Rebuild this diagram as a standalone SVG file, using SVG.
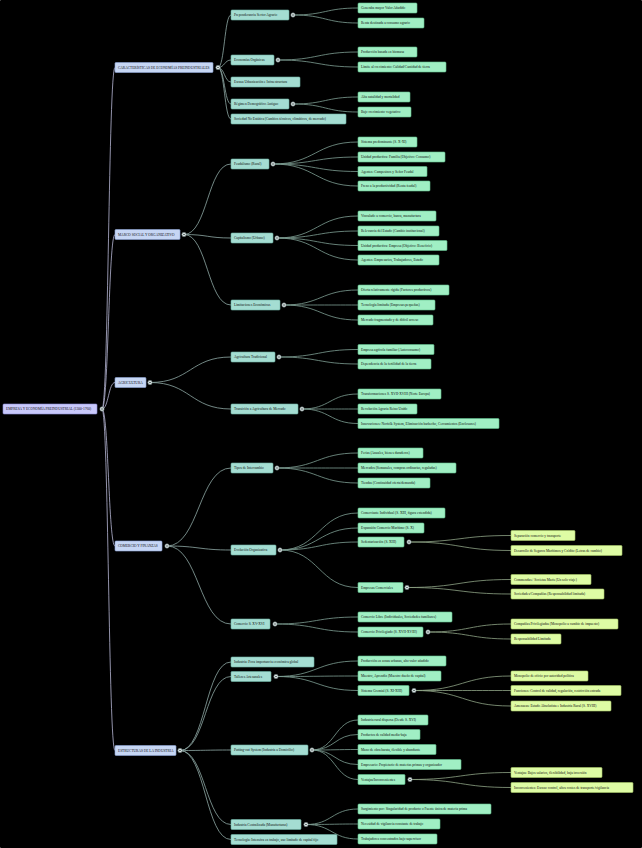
<svg xmlns="http://www.w3.org/2000/svg" width="642" height="848" viewBox="0 0 642 848">
<style>
rect{rx:1;stroke-width:0.6}
.n0{fill:#c9c9fb;stroke:#8e8ed8}
.n1{fill:#c6d6f4;stroke:#8ea6d6}
.n2{fill:#a4ddd2;stroke:#6fb3a6}
.n3{fill:#a0efc4;stroke:#62c08e}
.n4{fill:#defca4;stroke:#a8c86a}
text{font-family:"Liberation Serif","Times New Roman",serif;font-size:3.5px;fill:#111;dominant-baseline:central}
.c{fill:#e6eeee;stroke:#5b6b6b;stroke-width:0.6}
.d{fill:#3a4a4a}
#links path{fill:none;stroke-width:0.8}
.l0{stroke:#b7b7d6}
.l1{stroke:#8fa9a6}
.l2{stroke:#7f9f94}
.l3{stroke:#8fa486}
</style>
<rect width="642" height="848" fill="#000"/>
<g id="links">
<path class="l0" d="M102,409 C108.5,409 108.5,67.5 115,67.5"/>
<path class="l0" d="M102,409 C108.5,409 108.5,234.5 115,234.5"/>
<path class="l0" d="M102,409 C108.5,409 108.5,382.5 115,382.5"/>
<path class="l0" d="M102,409 C108.5,409 108.5,546 115,546"/>
<path class="l0" d="M102,409 C108.5,409 108.5,750.5 115,750.5"/>
<path class="l1" d="M218,67.5 C224.5,67.5 224.5,15 231,15"/>
<path class="l1" d="M218,67.5 C224.5,67.5 224.5,60 231,60"/>
<path class="l1" d="M218,67.5 C224.5,67.5 224.5,82 231,82"/>
<path class="l1" d="M218,67.5 C224.5,67.5 224.5,104 231,104"/>
<path class="l1" d="M218,67.5 C224.5,67.5 224.5,119 231,119"/>
<path class="l1" d="M184,234.5 C207.5,234.5 207.5,164 231,164"/>
<path class="l1" d="M184,234.5 C207.5,234.5 207.5,238 231,238"/>
<path class="l1" d="M184,234.5 C207.5,234.5 207.5,305 231,305"/>
<path class="l1" d="M150,382.5 C190.5,382.5 190.5,357 231,357"/>
<path class="l1" d="M150,382.5 C190.5,382.5 190.5,409 231,409"/>
<path class="l1" d="M167,546 C199,546 199,468 231,468"/>
<path class="l1" d="M167,546 C199,546 199,550 231,550"/>
<path class="l1" d="M167,546 C199,546 199,624 231,624"/>
<path class="l1" d="M180,750.5 C205.5,750.5 205.5,662 231,662"/>
<path class="l1" d="M180,750.5 C205.5,750.5 205.5,676.5 231,676.5"/>
<path class="l1" d="M180,750.5 C205.5,750.5 205.5,750 231,750"/>
<path class="l1" d="M180,750.5 C205.5,750.5 205.5,824.5 231,824.5"/>
<path class="l1" d="M180,750.5 C205.5,750.5 205.5,839.5 231,839.5"/>
<path class="l2" d="M293,15 C325.5,15 325.5,8 358,8"/>
<path class="l2" d="M293,15 C325.5,15 325.5,23 358,23"/>
<path class="l2" d="M278,60 C318,60 318,52 358,52"/>
<path class="l2" d="M278,60 C318,60 318,67 358,67"/>
<path class="l2" d="M293,104 C325.5,104 325.5,97 358,97"/>
<path class="l2" d="M293,104 C325.5,104 325.5,112 358,112"/>
<path class="l2" d="M273,164 C315.5,164 315.5,142 358,142"/>
<path class="l2" d="M273,164 C315.5,164 315.5,157 358,157"/>
<path class="l2" d="M273,164 C315.5,164 315.5,171.5 358,171.5"/>
<path class="l2" d="M273,164 C315.5,164 315.5,186 358,186"/>
<path class="l2" d="M277,238 C317.5,238 317.5,216 358,216"/>
<path class="l2" d="M277,238 C317.5,238 317.5,231 358,231"/>
<path class="l2" d="M277,238 C317.5,238 317.5,245.5 358,245.5"/>
<path class="l2" d="M277,238 C317.5,238 317.5,260 358,260"/>
<path class="l2" d="M284,305 C321,305 321,290 358,290"/>
<path class="l2" d="M284,305 C321,305 321,305 358,305"/>
<path class="l2" d="M284,305 C321,305 321,320 358,320"/>
<path class="l2" d="M279,357 C318.5,357 318.5,349.5 358,349.5"/>
<path class="l2" d="M279,357 C318.5,357 318.5,364 358,364"/>
<path class="l2" d="M302,409 C330,409 330,394 358,394"/>
<path class="l2" d="M302,409 C330,409 330,409 358,409"/>
<path class="l2" d="M302,409 C330,409 330,423.5 358,423.5"/>
<path class="l2" d="M277,468 C317.5,468 317.5,453 358,453"/>
<path class="l2" d="M277,468 C317.5,468 317.5,468 358,468"/>
<path class="l2" d="M277,468 C317.5,468 317.5,483 358,483"/>
<path class="l2" d="M280,550 C319,550 319,513 358,513"/>
<path class="l2" d="M280,550 C319,550 319,528 358,528"/>
<path class="l2" d="M280,550 C319,550 319,542 358,542"/>
<path class="l2" d="M280,550 C319,550 319,587.5 358,587.5"/>
<path class="l2" d="M275,624 C316.5,624 316.5,617 358,617"/>
<path class="l2" d="M275,624 C316.5,624 316.5,632 358,632"/>
<path class="l2" d="M276,676.5 C317,676.5 317,661 358,661"/>
<path class="l2" d="M276,676.5 C317,676.5 317,676 358,676"/>
<path class="l2" d="M276,676.5 C317,676.5 317,690.5 358,690.5"/>
<path class="l2" d="M312,750 C335,750 335,720 358,720"/>
<path class="l2" d="M312,750 C335,750 335,734.5 358,734.5"/>
<path class="l2" d="M312,750 C335,750 335,749.5 358,749.5"/>
<path class="l2" d="M312,750 C335,750 335,764.5 358,764.5"/>
<path class="l2" d="M312,750 C335,750 335,779.5 358,779.5"/>
<path class="l2" d="M306,824.5 C332,824.5 332,809 358,809"/>
<path class="l2" d="M306,824.5 C332,824.5 332,824 358,824"/>
<path class="l2" d="M306,824.5 C332,824.5 332,839 358,839"/>
<path class="l3" d="M409,542 C460,542 460,535.5 511,535.5"/>
<path class="l3" d="M409,542 C460,542 460,550.5 511,550.5"/>
<path class="l3" d="M407,587.5 C459,587.5 459,579.5 511,579.5"/>
<path class="l3" d="M407,587.5 C459,587.5 459,594 511,594"/>
<path class="l3" d="M428,632 C469.5,632 469.5,624 511,624"/>
<path class="l3" d="M428,632 C469.5,632 469.5,639 511,639"/>
<path class="l3" d="M414,690.5 C462.5,690.5 462.5,676 511,676"/>
<path class="l3" d="M414,690.5 C462.5,690.5 462.5,690.5 511,690.5"/>
<path class="l3" d="M414,690.5 C462.5,690.5 462.5,706 511,706"/>
<path class="l3" d="M410,779.5 C460.5,779.5 460.5,772.5 511,772.5"/>
<path class="l3" d="M410,779.5 C460.5,779.5 460.5,787.5 511,787.5"/>
</g>
<g id="root"><rect class="n0" x="3" y="404" width="94" height="10"/><text x="6" y="409">EMPRESA Y ECONOMÍA PREINDUSTRIAL (1300-1760)</text><circle class="c" cx="102" cy="409" r="2.2"/><circle class="d" cx="102" cy="409" r="0.8"/></g>
<g id="A"><rect class="n1" x="115" y="62.5" width="98" height="10"/><text x="118" y="67.5">CARACTERÍSTICAS DE ECONOMÍAS PREINDUSTRIALES</text><circle class="c" cx="218" cy="67.5" r="2.2"/><circle class="d" cx="218" cy="67.5" r="0.8"/></g>
<g id="B"><rect class="n1" x="115" y="229.5" width="65" height="10"/><text x="118" y="234.5">MARCO SOCIAL Y ORGANIZATIVO</text><circle class="c" cx="184" cy="234.5" r="2.2"/><circle class="d" cx="184" cy="234.5" r="0.8"/></g>
<g id="C"><rect class="n1" x="115" y="377.5" width="31" height="10"/><text x="118" y="382.5">AGRICULTURA</text><circle class="c" cx="150" cy="382.5" r="2.2"/><circle class="d" cx="150" cy="382.5" r="0.8"/></g>
<g id="D"><rect class="n1" x="115" y="541" width="47" height="10"/><text x="118" y="546">COMERCIO Y FINANZAS</text><circle class="c" cx="167" cy="546" r="2.2"/><circle class="d" cx="167" cy="546" r="0.8"/></g>
<g id="E"><rect class="n1" x="115" y="745.5" width="61" height="10"/><text x="118" y="750.5">ESTRUCTURAS DE LA INDUSTRIA</text><circle class="c" cx="180" cy="750.5" r="2.2"/><circle class="d" cx="180" cy="750.5" r="0.8"/></g>
<g id="A1"><rect class="n2" x="231" y="10" width="58" height="10"/><text x="234" y="15">Preponderancia Sector Agrario</text><circle class="c" cx="293" cy="15" r="2.2"/><circle class="d" cx="293" cy="15" r="0.8"/></g>
<g id="A2"><rect class="n2" x="231" y="55" width="43" height="10"/><text x="234" y="60">Economías Orgánicas</text><circle class="c" cx="278" cy="60" r="2.2"/><circle class="d" cx="278" cy="60" r="0.8"/></g>
<g id="A3"><rect class="n2" x="231" y="77" width="69" height="10"/><text x="234" y="82">Escasa Urbanización e Infraestructura</text></g>
<g id="A4"><rect class="n2" x="231" y="99" width="58" height="10"/><text x="234" y="104">Régimen Demográfico Antiguo</text><circle class="c" cx="293" cy="104" r="2.2"/><circle class="d" cx="293" cy="104" r="0.8"/></g>
<g id="A5"><rect class="n2" x="231" y="114" width="115" height="10"/><text x="234" y="119">Sociedad No Estática (Cambios técnicos, climáticos, de mercado)</text></g>
<g id="B1"><rect class="n2" x="231" y="159" width="38" height="10"/><text x="234" y="164">Feudalismo (Rural)</text><circle class="c" cx="273" cy="164" r="2.2"/><circle class="d" cx="273" cy="164" r="0.8"/></g>
<g id="B2"><rect class="n2" x="231" y="233" width="42" height="10"/><text x="234" y="238">Capitalismo (Urbano)</text><circle class="c" cx="277" cy="238" r="2.2"/><circle class="d" cx="277" cy="238" r="0.8"/></g>
<g id="B3"><rect class="n2" x="231" y="300" width="49" height="10"/><text x="234" y="305">Limitaciones Económicas</text><circle class="c" cx="284" cy="305" r="2.2"/><circle class="d" cx="284" cy="305" r="0.8"/></g>
<g id="C1"><rect class="n2" x="231" y="352" width="44" height="10"/><text x="234" y="357">Agricultura Tradicional</text><circle class="c" cx="279" cy="357" r="2.2"/><circle class="d" cx="279" cy="357" r="0.8"/></g>
<g id="C2"><rect class="n2" x="231" y="404" width="67" height="10"/><text x="234" y="409">Transición a Agricultura de Mercado</text><circle class="c" cx="302" cy="409" r="2.2"/><circle class="d" cx="302" cy="409" r="0.8"/></g>
<g id="D1"><rect class="n2" x="231" y="463" width="42" height="10"/><text x="234" y="468">Tipos de Intercambio</text><circle class="c" cx="277" cy="468" r="2.2"/><circle class="d" cx="277" cy="468" r="0.8"/></g>
<g id="D2"><rect class="n2" x="231" y="545" width="45" height="10"/><text x="234" y="550">Evolución Organizativa</text><circle class="c" cx="280" cy="550" r="2.2"/><circle class="d" cx="280" cy="550" r="0.8"/></g>
<g id="D3"><rect class="n2" x="231" y="619" width="39" height="10"/><text x="234" y="624">Comercio S. XV-XVI</text><circle class="c" cx="275" cy="624" r="2.2"/><circle class="d" cx="275" cy="624" r="0.8"/></g>
<g id="E1"><rect class="n2" x="231" y="657" width="83" height="10"/><text x="234" y="662">Industria: Poca importancia económica global</text></g>
<g id="E2"><rect class="n2" x="231" y="671.5" width="40" height="10"/><text x="234" y="676.5">Talleres Artesanales</text><circle class="c" cx="276" cy="676.5" r="2.2"/><circle class="d" cx="276" cy="676.5" r="0.8"/></g>
<g id="E3"><rect class="n2" x="231" y="745" width="77" height="10"/><text x="234" y="750">Putting-out System (Industria a Domicilio)</text><circle class="c" cx="312" cy="750" r="2.2"/><circle class="d" cx="312" cy="750" r="0.8"/></g>
<g id="E4"><rect class="n2" x="231" y="819.5" width="70" height="10"/><text x="234" y="824.5">Industria Centralizada (Manufacturas)</text><circle class="c" cx="306" cy="824.5" r="2.2"/><circle class="d" cx="306" cy="824.5" r="0.8"/></g>
<g id="E5"><rect class="n2" x="231" y="834.5" width="106" height="10"/><text x="234" y="839.5">Tecnología: Intensiva en trabajo, uso limitado de capital fijo</text></g>
<g id="A1a"><rect class="n3" x="358" y="3" width="59" height="10"/><text x="361" y="8">Generaba mayor Valor Añadido</text></g>
<g id="A1b"><rect class="n3" x="358" y="18" width="66" height="10"/><text x="361" y="23">Renta destinada a consumo agrario</text></g>
<g id="A2a"><rect class="n3" x="358" y="47" width="59" height="10"/><text x="361" y="52">Producción basada en biomasa</text></g>
<g id="A2b"><rect class="n3" x="358" y="62" width="88" height="10"/><text x="361" y="67">Límite al crecimiento: Calidad/Cantidad de tierra</text></g>
<g id="A4a"><rect class="n3" x="358" y="92" width="52" height="10"/><text x="361" y="97">Alta natalidad y mortalidad</text></g>
<g id="A4b"><rect class="n3" x="358" y="107" width="53" height="10"/><text x="361" y="112">Bajo crecimiento vegetativo</text></g>
<g id="B1a"><rect class="n3" x="358" y="137" width="59" height="10"/><text x="361" y="142">Sistema predominante (S. X-XI)</text></g>
<g id="B1b"><rect class="n3" x="358" y="152" width="87" height="10"/><text x="361" y="157">Unidad productiva: Familia (Objetivo: Consumo)</text></g>
<g id="B1c"><rect class="n3" x="358" y="166.5" width="69" height="10"/><text x="361" y="171.5">Agentes: Campesinos y Señor Feudal</text></g>
<g id="B1d"><rect class="n3" x="358" y="181" width="72" height="10"/><text x="361" y="186">Freno a la productividad (Renta feudal)</text></g>
<g id="B2a"><rect class="n3" x="358" y="211" width="78" height="10"/><text x="361" y="216">Vinculado a comercio, banca, manufactura</text></g>
<g id="B2b"><rect class="n3" x="358" y="226" width="81" height="10"/><text x="361" y="231">Relevancia del Estado (Cambio institucional)</text></g>
<g id="B2c"><rect class="n3" x="358" y="240.5" width="89" height="10"/><text x="361" y="245.5">Unidad productiva: Empresa (Objetivo: Beneficio)</text></g>
<g id="B2d"><rect class="n3" x="358" y="255" width="81" height="10"/><text x="361" y="260">Agentes: Empresarios, Trabajadores, Estado</text></g>
<g id="B3a"><rect class="n3" x="358" y="285" width="91" height="10"/><text x="361" y="290">Oferta relativamente rígida (Factores productivos)</text></g>
<g id="B3b"><rect class="n3" x="358" y="300" width="77" height="10"/><text x="361" y="305">Tecnología limitada (Empresas pequeñas)</text></g>
<g id="B3c"><rect class="n3" x="358" y="315" width="75" height="10"/><text x="361" y="320">Mercado fragmentado y de difícil acceso</text></g>
<g id="C1a"><rect class="n3" x="358" y="344.5" width="76" height="10"/><text x="361" y="349.5">Empresa agrícola familiar (Autoconsumo)</text></g>
<g id="C1b"><rect class="n3" x="358" y="359" width="73" height="10"/><text x="361" y="364">Dependencia de la fertilidad de la tierra</text></g>
<g id="C2a"><rect class="n3" x="358" y="389" width="83" height="10"/><text x="361" y="394">Transformaciones S. XVII-XVIII (Norte Europa)</text></g>
<g id="C2b"><rect class="n3" x="358" y="404" width="59" height="10"/><text x="361" y="409">Revolución Agraria Reino Unido</text></g>
<g id="C2c"><rect class="n3" x="358" y="418.5" width="141" height="10"/><text x="361" y="423.5">Innovaciones: Norfolk System, Eliminación barbecho, Cercamientos (Enclosures)</text></g>
<g id="D1a"><rect class="n3" x="358" y="448" width="65" height="10"/><text x="361" y="453">Ferias (Anuales, bienes duraderos)</text></g>
<g id="D1b"><rect class="n3" x="358" y="463" width="98" height="10"/><text x="361" y="468">Mercados (Semanales, compras ordinarias, reguladas)</text></g>
<g id="D1c"><rect class="n3" x="358" y="478" width="72" height="10"/><text x="361" y="483">Tiendas (Continuidad oferta/demanda)</text></g>
<g id="D2a"><rect class="n3" x="358" y="508" width="87" height="10"/><text x="361" y="513">Comerciante Individual (S. XIII, figura extendida)</text></g>
<g id="D2b"><rect class="n3" x="358" y="523" width="66" height="10"/><text x="361" y="528">Expansión Comercio Marítimo (S. X)</text></g>
<g id="D2c"><rect class="n3" x="358" y="537" width="46" height="10"/><text x="361" y="542">Sedentarización (S. XIII)</text><circle class="c" cx="409" cy="542" r="2.2"/><circle class="d" cx="409" cy="542" r="0.8"/></g>
<g id="D2d"><rect class="n3" x="358" y="582.5" width="45" height="10"/><text x="361" y="587.5">Empresas Comerciales</text><circle class="c" cx="407" cy="587.5" r="2.2"/><circle class="d" cx="407" cy="587.5" r="0.8"/></g>
<g id="D3a"><rect class="n3" x="358" y="612" width="94" height="10"/><text x="361" y="617">Comercio Libre (Individuales, Sociedades familiares)</text></g>
<g id="D3b"><rect class="n3" x="358" y="627" width="65" height="10"/><text x="361" y="632">Comercio Privilegiado (S. XVII-XVIII)</text><circle class="c" cx="428" cy="632" r="2.2"/><circle class="d" cx="428" cy="632" r="0.8"/></g>
<g id="E2a"><rect class="n3" x="358" y="656" width="88" height="10"/><text x="361" y="661">Producción en zonas urbanas, alto valor añadido</text></g>
<g id="E2b"><rect class="n3" x="358" y="671" width="83" height="10"/><text x="361" y="676">Maestro, Aprendiz (Maestro dueño de capital)</text></g>
<g id="E2c"><rect class="n3" x="358" y="685.5" width="51" height="10"/><text x="361" y="690.5">Sistema Gremial (S. XI-XIII)</text><circle class="c" cx="414" cy="690.5" r="2.2"/><circle class="d" cx="414" cy="690.5" r="0.8"/></g>
<g id="E3a"><rect class="n3" x="358" y="715" width="70" height="10"/><text x="361" y="720">Industria rural dispersa (Desde S. XVI)</text></g>
<g id="E3b"><rect class="n3" x="358" y="729.5" width="62" height="10"/><text x="361" y="734.5">Productos de calidad media-baja</text></g>
<g id="E3c"><rect class="n3" x="358" y="744.5" width="78" height="10"/><text x="361" y="749.5">Mano de obra barata, flexible y abundante</text></g>
<g id="E3d"><rect class="n3" x="358" y="759.5" width="103" height="10"/><text x="361" y="764.5">Empresario: Propietario de materias primas y organizador</text></g>
<g id="E3e"><rect class="n3" x="358" y="774.5" width="47" height="10"/><text x="361" y="779.5">Ventajas/Inconvenientes</text><circle class="c" cx="410" cy="779.5" r="2.2"/><circle class="d" cx="410" cy="779.5" r="0.8"/></g>
<g id="E4a"><rect class="n3" x="358" y="804" width="133" height="10"/><text x="361" y="809">Surgimiento por: Singularidad de producto o Fuente única de materia prima</text></g>
<g id="E4b"><rect class="n3" x="358" y="819" width="82" height="10"/><text x="361" y="824">Necesidad de vigilancia constante de trabajo</text></g>
<g id="E4c"><rect class="n3" x="358" y="834" width="79" height="10"/><text x="361" y="839">Trabajadores concentrados bajo supervisor</text></g>
<g id="D2c1"><rect class="n4" x="511" y="530.5" width="64" height="10"/><text x="514" y="535.5">Separación comercio y transporte</text></g>
<g id="D2c2"><rect class="n4" x="511" y="545.5" width="111" height="10"/><text x="514" y="550.5">Desarrollo de Seguros Marítimos y Crédito (Letras de cambio)</text></g>
<g id="D2d1"><rect class="n4" x="511" y="574.5" width="80" height="10"/><text x="514" y="579.5">Commendas / Societas Maris (Un solo viaje)</text></g>
<g id="D2d2"><rect class="n4" x="511" y="589" width="93" height="10"/><text x="514" y="594">Sociedades/Compañías (Responsabilidad limitada)</text></g>
<g id="D3b1"><rect class="n4" x="511" y="619" width="107" height="10"/><text x="514" y="624">Compañías Privilegiadas (Monopolio a cambio de impuesto)</text></g>
<g id="D3b2"><rect class="n4" x="511" y="634" width="50" height="10"/><text x="514" y="639">Responsabilidad Limitada</text></g>
<g id="E2c1"><rect class="n4" x="511" y="671" width="77" height="10"/><text x="514" y="676">Monopolio de oficio por autoridad política</text></g>
<g id="E2c2"><rect class="n4" x="511" y="685.5" width="110" height="10"/><text x="514" y="690.5">Funciones: Control de calidad, regulación, restricción entrada</text></g>
<g id="E2c3"><rect class="n4" x="511" y="701" width="100" height="10"/><text x="514" y="706">Amenazas: Estado Absolutista e Industria Rural (S. XVIII)</text></g>
<g id="E3e1"><rect class="n4" x="511" y="767.5" width="91" height="10"/><text x="514" y="772.5">Ventajas: Bajos salarios, flexibilidad, baja inversión</text></g>
<g id="E3e2"><rect class="n4" x="511" y="782.5" width="122" height="10"/><text x="514" y="787.5">Inconvenientes: Escaso control, altos costes de transporte/vigilancia</text></g>
</svg>
